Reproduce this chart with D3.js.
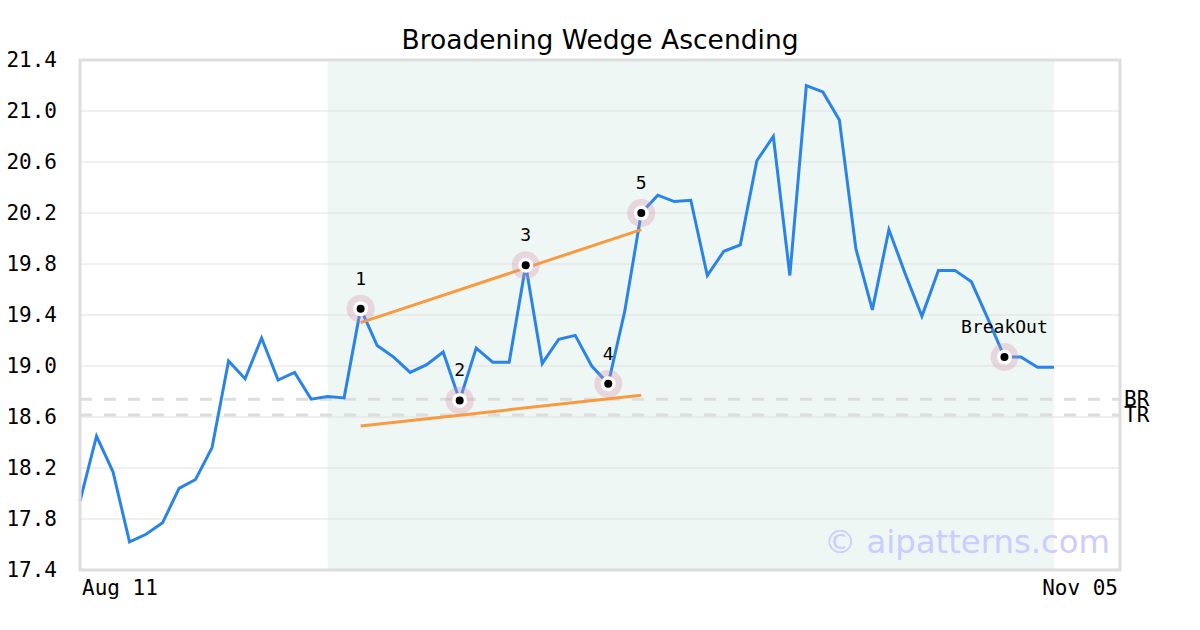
<!DOCTYPE html>
<html><head><meta charset="utf-8">
<script src="https://cdn.jsdelivr.net/npm/d3@7"></script>
<style>body{margin:0;background:#fff}</style>
</head><body><svg id="c" width="1200" height="630"></svg>
<script>
const title = "Broadening Wedge Ascending";
const prices = [17.94,18.45,18.17,17.62,17.68,17.77,18.04,18.11,18.36,19.04,
18.90,19.22,18.89,18.95,18.74,18.76,18.75,19.45,19.16,19.07,
18.95,19.01,19.11,18.73,19.14,19.03,19.03,19.79,19.02,19.21,
19.24,19.00,18.86,19.43,20.20,20.34,20.29,20.30,19.71,19.90,
19.95,20.61,20.80,19.71,21.20,21.15,20.93,19.92,19.44,20.07,
19.72,19.39,19.75,19.75,19.66,19.37,19.07,19.07,18.99,18.99];
const xDomain = [0, 63];
const xTickLabels = [{i:0, label:"Aug 11"}, {i:63, label:"Nov 05"}];
const yTicks = [17.4,17.8,18.2,18.6,19.0,19.4,19.8,20.2,20.6,21.0,21.4];
const shadeRange = [15, 59];
const pivots = [{i:17,label:"1"},{i:23,label:"2"},{i:27,label:"3"},{i:32,label:"4"},{i:34,label:"5"},{i:56,label:"BreakOut"}];
const upperLine = [{i:17,v:19.34},{i:34,v:20.07}];
const lowerLine = [{i:17,v:18.53},{i:34,v:18.77}];
const levels = [{name:"BR", v:18.74},{name:"TR", v:18.615}];
const watermark = "© aipatterns.com";

const svg = d3.select("#c");
const L=80, R=1120, T=60, B=570;
const x = d3.scaleLinear().domain(xDomain).range([L,R]);
const y = d3.scaleLinear().domain([17.4,21.4]).range([B,T]);

svg.append("rect").attr("x",x(shadeRange[0])).attr("y",T).attr("width",x(shadeRange[1])-x(shadeRange[0])).attr("height",B-T).attr("fill","#eef7f3");

svg.append("g").selectAll("line").data(yTicks).join("line")
 .attr("x1",L).attr("x2",R).attr("y1",d=>y(d)).attr("y2",d=>y(d))
 .attr("stroke","#e0e0e0").attr("stroke-width",1);

svg.append("g").selectAll("line").data(levels).join("line")
 .attr("x1",L).attr("x2",R).attr("y1",d=>y(d.v)).attr("y2",d=>y(d.v))
 .attr("stroke","#dddddd").attr("stroke-width",3).attr("stroke-dasharray","12,12");
svg.append("g").selectAll("text").data(levels).join("text")
 .attr("x",R+4).attr("y",d=>y(d.v)+7).text(d=>d.name)
 .attr("font-family","DejaVu Sans Mono").attr("font-size",21).attr("fill","#000");

const line = d3.line().x((d,i)=>x(i)).y(d=>y(d));
svg.append("path").datum(prices).attr("d",line).attr("fill","none")
 .attr("stroke","#2a84e8").attr("stroke-width",3).attr("stroke-linejoin","miter");

const tl = d3.line().x(d=>x(d.i)).y(d=>y(d.v));
[upperLine, lowerLine].forEach(l=>svg.append("path").datum(l).attr("d",tl)
 .attr("fill","none").attr("stroke","#f89a40").attr("stroke-width",3));

const pg = svg.append("g").selectAll("g").data(pivots).join("g")
 .attr("transform",d=>`translate(${x(d.i)},${y(prices[d.i])})`);
pg.append("circle").attr("r",14).attr("fill","#d890a8").attr("fill-opacity",0.3);
pg.append("circle").attr("r",7.5).attr("fill","#fff");
pg.append("circle").attr("r",4).attr("fill","#000");
pg.append("text").attr("y",-24).attr("text-anchor","middle").text(d=>d.label)
 .attr("font-family","DejaVu Sans Mono").attr("font-size",18).attr("fill","#000");

svg.append("rect").attr("x",L).attr("y",T).attr("width",R-L).attr("height",B-T)
 .attr("fill","none").attr("stroke","#dddddd").attr("stroke-width",3);

svg.append("g").selectAll("text").data(yTicks).join("text")
 .attr("x",57).attr("y",d=>y(d)+7).attr("text-anchor","end").text(d=>d.toFixed(1))
 .attr("font-family","DejaVu Sans Mono").attr("font-size",21).attr("fill","#000");

svg.append("g").selectAll("text").data(xTickLabels).join("text")
 .attr("x",d=>x(d.i)+(d.i===0?2:-2)).attr("y",595)
 .attr("text-anchor",d=>d.i===0?"start":"end").text(d=>d.label)
 .attr("font-family","DejaVu Sans Mono").attr("font-size",21).attr("fill","#000");

svg.append("text").attr("x",600).attr("y",49).attr("text-anchor","middle").text(title)
 .attr("font-family","DejaVu Sans").attr("font-size",26.5).attr("fill","#000");

svg.append("text").attr("x",1110).attr("y",553).attr("text-anchor","end").text(watermark)
 .attr("font-family","DejaVu Sans").attr("font-size",32.3).attr("fill","#ccccff");
</script></body></html>
